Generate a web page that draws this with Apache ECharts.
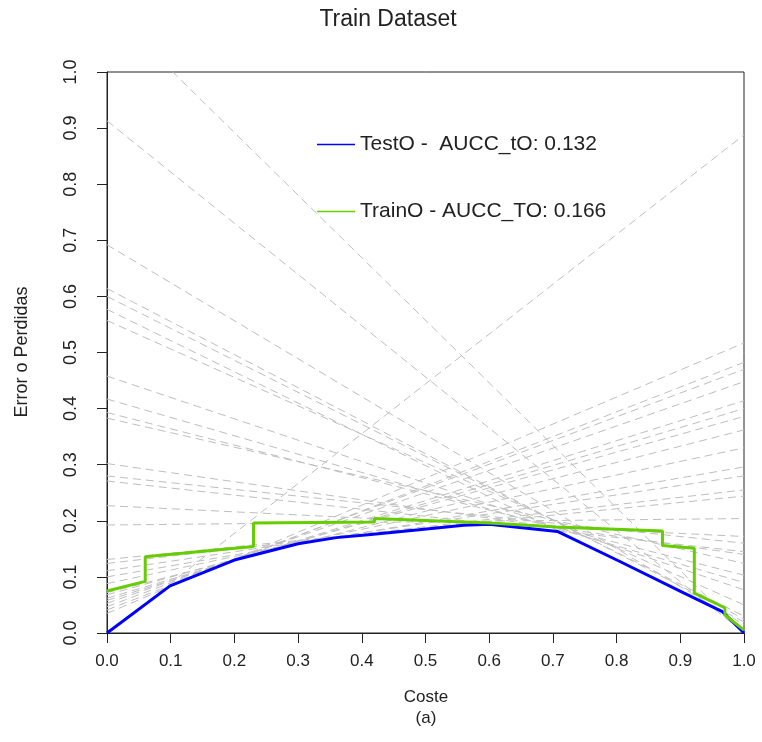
<!DOCTYPE html>
<html>
<head>
<meta charset="utf-8">
<script src="https://cdn.jsdelivr.net/npm/echarts@6/dist/echarts.min.js"></script>
<style>
html,body{margin:0;padding:0;background:#fff;}
#chart{width:762px;height:742px;}
</style>
</head>
<body>
<div id="chart"></div>
<script>
// ---- data ----
const titleText = 'Train Dataset';
const xAxisTitle = 'Coste';
const yAxisTitle = 'Error o Perdidas';
const subTitle = '(a)';
const tickLabels = ['0.0','0.1','0.2','0.3','0.4','0.5','0.6','0.7','0.8','0.9','1.0'];

// gray dashed cost lines: value at Coste=0 (left) and Coste=1 (right)
const lineLeft  = [0.000, 0.035, 0.041, 0.047, 0.053, 0.058, 0.062, 0.068, 0.072, 0.088, 0.100, 0.111, 0.124, 0.131, 0.1925,
                   0.227, 0.271, 0.280, 0.302, 0.383, 0.393, 0.417, 0.458, 0.557, 0.577, 0.600, 0.614, 0.692, 0.913, 1.115];
const lineRight = [0.888, 0.517, 0.4825, 0.470, 0.448, 0.414, 0.400, 0.386, 0.362, 0.330, 0.296, 0.280, 0.255, 0.244, 0.204,
                   0.172, 0.145, 0.160, 0.140, 0.124, 0.103, 0.090, 0.077, 0.050, 0.020, 0.030, 0.025, 0.015, 0.000, 0.000];

const testName = 'TestO -  AUCC_tO: 0.132';
const testX = [0, 0.099, 0.2, 0.3, 0.36, 0.41, 0.49, 0.56, 0.6, 0.707, 0.806, 0.906, 0.966, 1.0];
const testY = [0, 0.084, 0.130, 0.159, 0.170, 0.175, 0.184, 0.192, 0.194, 0.181, 0.127, 0.071, 0.038, 0.0];

const trainName = 'TrainO - AUCC_TO: 0.166';
const trainX = [0, 0.06, 0.06, 0.23, 0.23, 0.42, 0.42, 0.47, 0.6, 0.705, 0.872, 0.872, 0.922, 0.922, 0.97, 0.97, 1.0];
const trainY = [0.075, 0.092, 0.136, 0.154, 0.196, 0.198, 0.204, 0.202, 0.196, 0.189, 0.182, 0.156, 0.151, 0.071, 0.045, 0.032, 0.005];

// ---- chart ----
const FONT = '"Liberation Sans", Arial, sans-serif';
const chart = echarts.init(document.getElementById('chart'), null, {renderer: 'canvas'});

const grayLines = lineLeft.map((a, i) => ({
  type: 'line',
  data: [[0, a], [1, lineRight[i]]],
  symbol: 'none',
  showSymbol: false,
  silent: true,
  clip: true,
  z: 1,
  lineStyle: {color: '#bebebe', width: 1, type: [8, 5]}
}));

const option = {
  animation: false,
  backgroundColor: '#ffffff',
  grid: {left: 107, top: 72, width: 637, height: 561, show: true, borderColor: '#222', borderWidth: 1, backgroundColor: 'transparent'},
  xAxis: {
    type: 'value', min: 0, max: 1, interval: 0.1,
    axisLine: {show: true, onZero: false, lineStyle: {color: '#222', width: 1}},
    axisTick: {show: true, inside: false, length: 10, lineStyle: {color: '#222'}},
    axisLabel: {margin: 20, fontSize: 17, fontFamily: FONT, color: '#222',
      formatter: (v) => tickLabels[Math.round(v * 10)]},
    splitLine: {show: false}
  },
  yAxis: {
    type: 'value', min: 0, max: 1, interval: 0.1,
    axisLine: {show: true, onZero: false, lineStyle: {color: '#222', width: 1}},
    axisTick: {show: true, inside: false, length: 10, lineStyle: {color: '#222'}},
    axisLabel: {margin: 27, rotate: 90, fontSize: 18, fontFamily: FONT, color: '#222',
      formatter: (v) => tickLabels[Math.round(v * 10)]},
    splitLine: {show: false}
  },
  legend: [
    {data: [testName], left: 317, top: 134, padding: 0, icon: 'rect', itemWidth: 38, itemHeight: 1.5,
     textStyle: {fontSize: 21, fontFamily: FONT, color: '#222'}, selectedMode: false},
    {data: [trainName], left: 317, top: 201, padding: 0, icon: 'rect', itemWidth: 38, itemHeight: 1.5,
     textStyle: {fontSize: 21, fontFamily: FONT, color: '#222'}, selectedMode: false}
  ],
  graphic: [
    {type: 'text', x: 388, y: 20, style: {text: titleText, font: '23px ' + FONT, fill: '#222', align: 'center', verticalAlign: 'middle'}},
    {type: 'text', x: 426, y: 697, style: {text: xAxisTitle, font: '17px ' + FONT, fill: '#222', align: 'center', verticalAlign: 'middle'}},
    {type: 'text', x: 426, y: 718, style: {text: subTitle, font: '17px ' + FONT, fill: '#222', align: 'center', verticalAlign: 'middle'}},
    {type: 'text', x: 22, y: 352, rotation: Math.PI / 2, style: {text: yAxisTitle, font: '18px ' + FONT, fill: '#222', align: 'center', verticalAlign: 'middle'}}
  ],
  series: grayLines.concat([
    {name: testName, type: 'line', data: testX.map((x, i) => [x, testY[i]]), symbol: 'none', showSymbol: false,
     color: '#0000ff', lineStyle: {color: '#0000ff', width: 3}, z: 3, clip: true},
    {name: trainName, type: 'line', data: trainX.map((x, i) => [x, trainY[i]]), symbol: 'none', showSymbol: false,
     color: '#66cd00', lineStyle: {color: '#66cd00', width: 3}, z: 4, clip: true}
  ])
};
chart.setOption(option);
</script>
</body>
</html>
